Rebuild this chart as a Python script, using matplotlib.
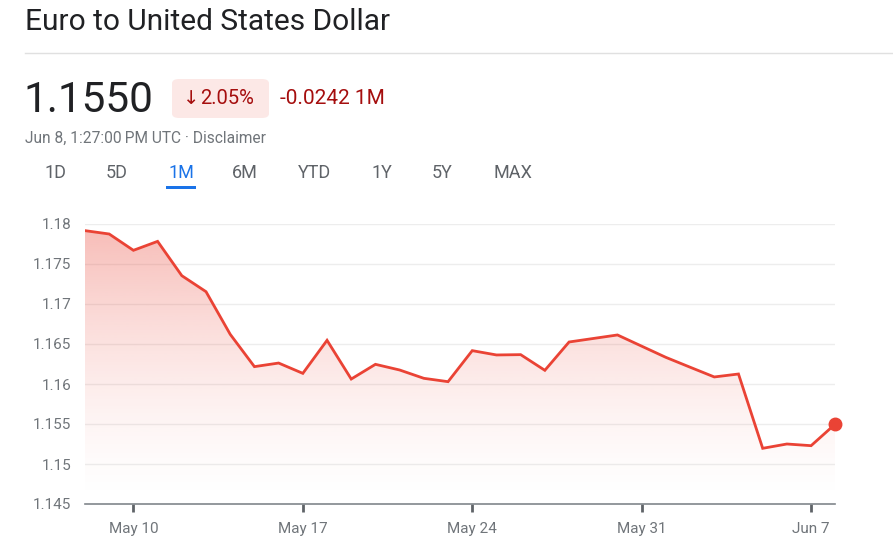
import numpy as np
import pandas as pd
import matplotlib
matplotlib.use("Agg")
import matplotlib.pyplot as plt
import matplotlib.dates as mdates
from matplotlib.patches import Polygon, FancyBboxPatch, Rectangle
from matplotlib.lines import Line2D

plt.rcParams['font.family'] = ['Roboto', 'DejaVu Sans']

# data: daily EUR/USD, May 8 - Jun 8
dates = pd.date_range("2025-05-08", "2025-06-08", freq="D")
rates = [1.17917, 1.17875, 1.17671, 1.17783, 1.17354, 1.17154, 1.16621, 1.16217,
         1.16262, 1.16133, 1.16546, 1.16062, 1.16246, 1.16175, 1.16071, 1.16029,
         1.16417, 1.16363, 1.16367, 1.16171, 1.16525, 1.16569, 1.16613, 1.16473,
         1.16333, 1.16210, 1.16088, 1.16125, 1.15196, 1.15250, 1.15229, 1.15500]

y_ticks = [1.145, 1.15, 1.155, 1.16, 1.165, 1.17, 1.175, 1.18]
y_labels = ["1.145", "1.15", "1.155", "1.16", "1.165", "1.17", "1.175", "1.18"]
x_ticks = pd.to_datetime(["2025-05-10", "2025-05-17", "2025-05-24", "2025-05-31", "2025-06-07"])
x_labels = ["May 10", "May 17", "May 24", "May 31", "Jun 7"]
tabs = ["1D", "5D", "1M", "6M", "YTD", "1Y", "5Y", "MAX"]
tab_x = [55, 117, 181, 245, 315, 382, 442, 513]

W, H = 893, 548
RED = "#ea4335"
GREY = "#70757a"


def fx(x):
    return x / W


def fy(y):
    return 1 - y / H


fig = plt.figure(figsize=(W / 100, H / 100), dpi=100)

# header
fig.text(fx(25), fy(22), "Euro to United States Dollar", fontsize=21.5,
         color="#202124", va="center", ha="left")
fig.add_artist(Line2D([fx(25), 1], [fy(53), fy(53)], color="#e0e0e0", lw=1))

fig.text(fx(23), fy(100), "1.1550", fontsize=30.5, color="#202124", va="center", ha="left")
fig.add_artist(FancyBboxPatch((fx(172), fy(118)), fx(97), 39 / H,
                              boxstyle="round,pad=0,rounding_size=0.008",
                              transform=fig.transFigure, facecolor="#fce8e6",
                              edgecolor="none"))
fig.text(fx(183), fy(98), "\u2193", fontsize=14, color="#a50e0e", va="center",
         ha="left", family=["DejaVu Sans"])
fig.text(fx(200), fy(98), "2.05%", fontsize=14.5, color="#a50e0e", va="center", ha="left")
fig.text(fx(280), fy(98), "-0.0242 1M", fontsize=15, color="#a50e0e", va="center", ha="left")
fig.text(fx(25), fy(138), "Jun 8, 1:27:00\u2009PM UTC \u00b7 Disclaimer", fontsize=11.2,
         color=GREY, va="center", ha="left")

for lab, x in zip(tabs, tab_x):
    col = "#1a73e8" if lab == "1M" else "#5f6368"
    fig.text(fx(x), fy(173), lab, fontsize=13, color=col, va="center", ha="center")
fig.add_artist(Rectangle((fx(166), fy(189)), fx(30), 3 / H, transform=fig.transFigure,
                         facecolor="#1a73e8", edgecolor="none"))

# chart
ax = fig.add_axes([fx(85), fy(504), fx(835.3 - 85), (504 - 224) / H])
xnum = mdates.date2num(dates)
ymin, ymax = 1.145, 1.18

verts = list(zip(xnum, rates)) + [(xnum[-1], ymin), (xnum[0], ymin)]
poly = Polygon(verts, closed=True, facecolor="none", edgecolor="none")
ax.add_patch(poly)
t = np.linspace(1, 0, 256) ** 1.5
grad = np.zeros((256, 1, 4))
grad[..., 0] = 234 / 255
grad[..., 1] = 67 / 255
grad[..., 2] = 53 / 255
grad[:, 0, 3] = 0.36 * t
im = ax.imshow(grad, extent=[xnum[0], xnum[-1], ymin, ymax], aspect="auto",
               origin="upper", zorder=1, interpolation="bilinear")
im.set_clip_path(poly)

ax.plot(xnum, rates, color=RED, lw=2.0, zorder=3, solid_joinstyle="miter")
ax.plot(xnum[-1], rates[-1], "o", color=RED, ms=9, zorder=4, clip_on=False)

ax.set_xlim(xnum[0], xnum[-1])
ax.set_ylim(ymin, ymax)
ax.set_yticks(y_ticks)
ax.set_yticklabels(y_labels)
ax.set_xticks(mdates.date2num(x_ticks))
ax.set_xticklabels(x_labels)
for yv in y_ticks[1:]:
    ax.axhline(yv, color="#ededed", lw=1, zorder=0)

for s in ["top", "right", "left"]:
    ax.spines[s].set_visible(False)
ax.spines["bottom"].set_color("#80868b")
ax.spines["bottom"].set_linewidth(1.2)
ax.tick_params(axis="y", length=0, pad=10, labelsize=11, labelcolor=GREY)
ax.tick_params(axis="x", length=6, width=2, color="#5f6368", pad=7, labelsize=11,
               labelcolor=GREY)
ax.set_facecolor("none")

fig.savefig("out.png", dpi=100)
